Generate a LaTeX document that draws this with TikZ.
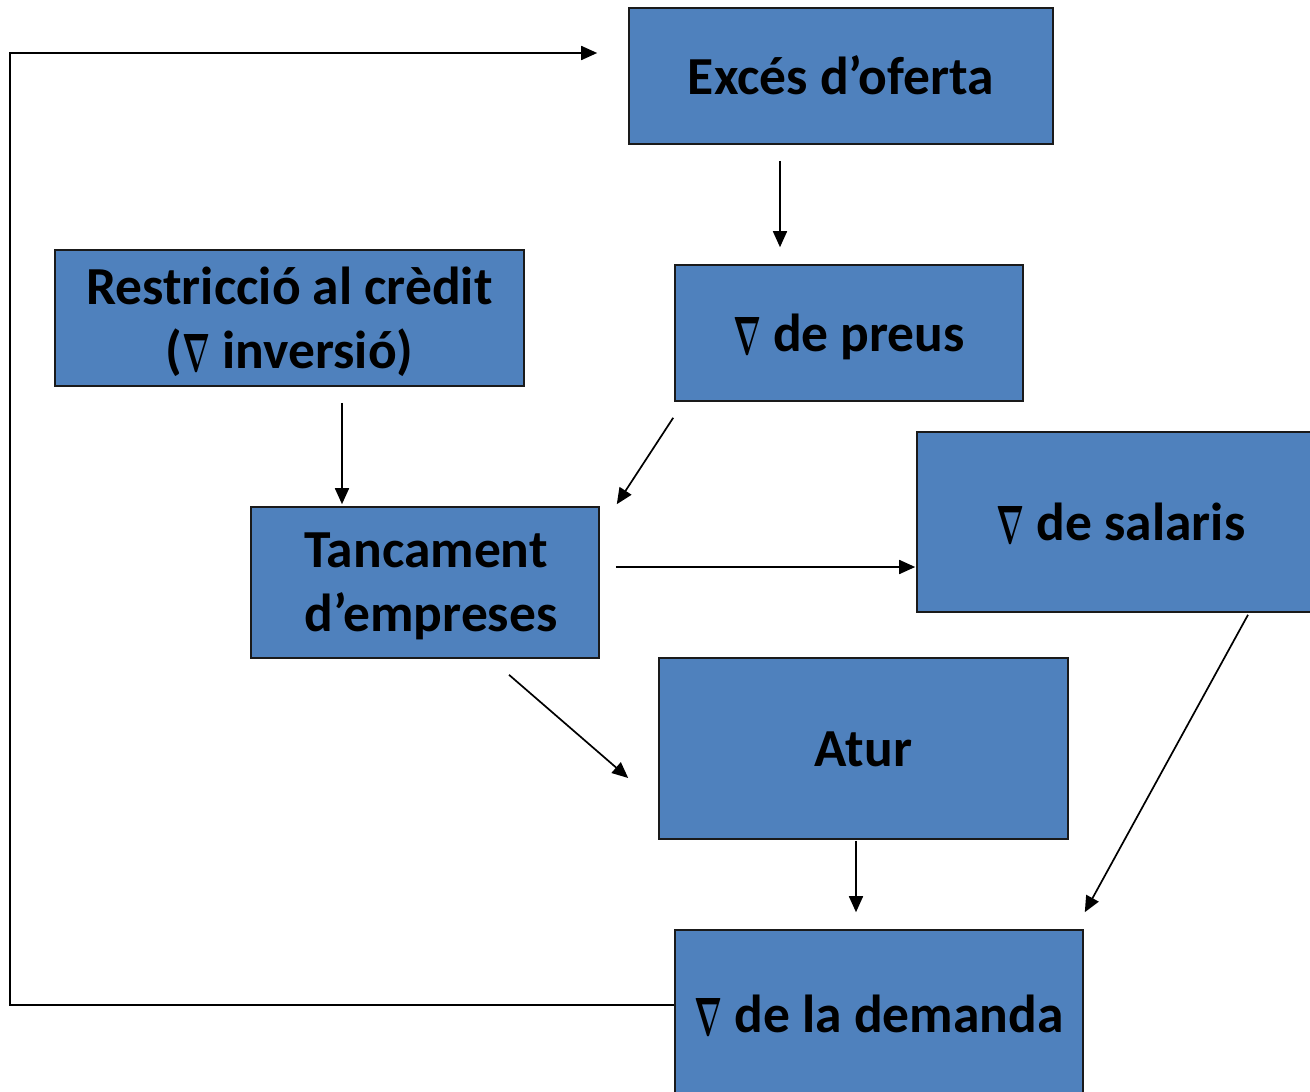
\documentclass[tikz,border=0pt]{standalone}
\usepackage{graphicx}
\usepackage{fontspec}
\setmainfont{Carlito}
\usetikzlibrary{arrows.meta}
\definecolor{boxblue}{HTML}{4F81BD}
\definecolor{boxline}{HTML}{1A1A1A}
\tikzset{
  box/.style={draw=boxline, line width=1.6pt, fill=boxblue, inner sep=0pt},
  txt/.style={inner sep=0pt, align=center, font=\fontsize{53.5}{64}\selectfont\bfseries},
  arr/.style={draw=black, line width=1.7pt, -{Triangle[length=16pt,width=14pt]}}
}
\newcommand{\nab}{\raisebox{-3pt}{\resizebox{28pt}{37pt}{\boldmath$\nabla$}}}
\begin{document}
\begin{tikzpicture}[x=1pt,y=-1pt]
\useasboundingbox (0,0) rectangle (1310,1092);
\clip (0,0) rectangle (1310,1092);
\node[box, minimum width=424pt, minimum height=136pt] (exces) at (841,76) {};
\node[box, minimum width=348pt, minimum height=136pt] (preus) at (849,333) {};
\node[box, minimum width=469pt, minimum height=136pt] (restr) at (289.5,318) {};
\node[box, minimum width=348pt, minimum height=151pt] (tanc) at (425,582.5) {};
\node[box, minimum width=408pt, minimum height=180pt] (sal) at (1121,522) {};
\node[box, minimum width=409pt, minimum height=181pt] (atur) at (863.5,748.5) {};
\node[box, minimum width=408pt, minimum height=172pt] (dem) at (879,1016) {};
% texts
\node[txt] (t1) at ([yshift=1pt]exces.center) {Excés d’oferta};
\node[txt] (t2) at ([yshift=-4pt]preus.center) {\nab{} de preus};
\node[txt] (t3) at ([yshift=-4pt]restr.center) {Restricció al crèdit\\(\nab{} inversió)};
\node[txt, align=left] (t4) at ([shift={(6,4)}]tanc.center) {Tancament\\d’empreses};
\node[txt] (t5) at ([yshift=-1pt]sal.center) {\nab{} de salaris};
\node[txt] (t6) at ([yshift=-1pt]atur.center) {Atur};
\node[txt] (t7) at ([yshift=1pt]dem.center) {\nab{} de la demanda};
\coordinate (fb) at (10,1005);
% connectors
\draw[arr] ([shift={(-61,16)}]exces.south) -- ([shift={(-69,-17)}]preus.north);
\draw[arr] ([shift={(52.5,16)}]restr.south) -- ([shift={(-83,-2)}]tanc.north);
\draw[arr] ([shift={(-1,16)}]preus.south west) -- ([shift={(17,-2)}]tanc.north east);
\draw[arr] ([shift={(16,-15.5)}]tanc.east) -- ([shift={(-1,45)}]sal.west);
\draw[arr] ([shift={(84,16)}]tanc.south) -- ([shift={(-30,29.5)}]atur.west);
\draw[arr] ([shift={(-7.5,1)}]atur.south) -- ([shift={(-23,-17)}]dem.north);
\draw[arr] ([shift={(127,2)}]sal.south) -- ([shift={(1,-17)}]dem.north east);
\draw[arr] ([shift={(0,-11)}]dem.west) -- (fb) |- ([shift={(-31,-23)}]exces.west);
\end{tikzpicture}
\end{document}
